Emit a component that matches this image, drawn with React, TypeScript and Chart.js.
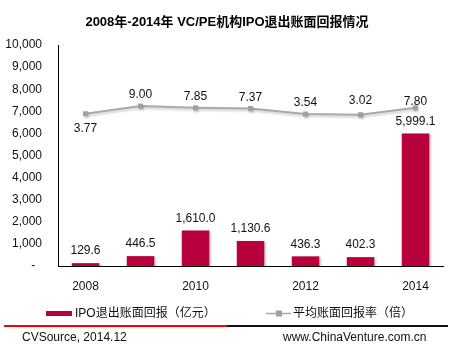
import React, { useEffect, useRef } from "react";
import { Chart, registerables } from "chart.js";

Chart.register(...registerables);

const categories = ["2008", "2009", "2010", "2011", "2012", "2013", "2014"];
const ipoReturns = [129.6, 446.5, 1610.0, 1130.6, 436.3, 402.3, 5999.1];
const avgMultiple = [3.77, 9.0, 7.85, 7.37, 3.54, 3.02, 7.8];
const yTicks = [0, 1000, 2000, 3000, 4000, 5000, 6000, 7000, 8000, 9000, 10000];

const titleText = "2008年-2014年 VC/PE机构IPO退出账面回报情况";
const barLegend = "IPO退出账面回报（亿元）";
const lineLegend = "平均账面回报率（倍）";
const sourceLeft = "CVSource, 2014.12";
const sourceRight = "www.ChinaVenture.com.cn";

const FONT = '"Liberation Sans", Arial, "Noto Sans CJK SC", sans-serif';
const BAR_COLOR = "#B8003C";
const LINE_COLOR = "#a8a8a8";
const POINT_COLOR = "#a0a0a0";
const TEXT = "#111";

const fmt1 = (v: number) =>
  v.toLocaleString("en-US", { minimumFractionDigits: 1, maximumFractionDigits: 1 });
const fmt2 = (v: number) => v.toFixed(2);

const decorPlugin = {
  id: "decor",
  beforeDatasetDraw(chart: any, args: any) {
    const ctx = chart.ctx;
    ctx.save();
    if (args.index === 0) {
      ctx.shadowColor = "rgba(0,0,0,0.22)";
      ctx.shadowOffsetX = 2;
      ctx.shadowOffsetY = 1;
      ctx.shadowBlur = 2;
    } else {
      ctx.shadowColor = "rgba(0,0,0,0.18)";
      ctx.shadowOffsetX = 1;
      ctx.shadowOffsetY = 2;
      ctx.shadowBlur = 2;
    }
  },
  afterDatasetDraw(chart: any) {
    chart.ctx.restore();
  },
  afterDraw(chart: any) {
    const ctx = chart.ctx;
    ctx.save();
    // title
    ctx.fillStyle = "#000";
    ctx.font = `bold 13px ${FONT}`;
    ctx.textAlign = "center";
    ctx.textBaseline = "middle";
    ctx.fillText(titleText, 227, 22);

    // data labels
    ctx.font = `12px ${FONT}`;
    ctx.fillStyle = TEXT;
    const barMeta = chart.getDatasetMeta(0);
    barMeta.data.forEach((el: any, i: number) => {
      ctx.fillText(fmt1(ipoReturns[i]), el.x, el.y - 12);
    });
    const lineMeta = chart.getDatasetMeta(1);
    const last = lineMeta.data.length - 1;
    lineMeta.data.forEach((el: any, i: number) => {
      let dy = -11;
      if (i === 0) dy = 15;
      else if (i === last) dy = -6;
      else if (avgMultiple[i] < 3.5) dy = -14;
      ctx.fillText(fmt2(avgMultiple[i]), el.x, el.y + dy);
    });

    // legend
    ctx.fillStyle = BAR_COLOR;
    ctx.fillRect(46, 311, 26, 5);
    ctx.fillStyle = TEXT;
    ctx.textAlign = "left";
    ctx.fillText(barLegend, 75, 314);
    ctx.strokeStyle = LINE_COLOR;
    ctx.lineWidth = 1.5;
    ctx.beginPath();
    ctx.moveTo(266, 313.5);
    ctx.lineTo(291, 313.5);
    ctx.stroke();
    ctx.fillStyle = POINT_COLOR;
    ctx.fillRect(276, 310.5, 6, 6);
    ctx.fillStyle = TEXT;
    ctx.fillText(lineLegend, 293, 314);

    // footer
    ctx.lineWidth = 2;
    ctx.strokeStyle = "#ff0000";
    ctx.beginPath();
    ctx.moveTo(4, 326);
    ctx.lineTo(227, 326);
    ctx.stroke();
    ctx.strokeStyle = "#111";
    ctx.beginPath();
    ctx.moveTo(227, 326);
    ctx.lineTo(448, 326);
    ctx.stroke();
    ctx.fillStyle = TEXT;
    ctx.font = `12px ${FONT}`;
    ctx.fillText(sourceLeft, 22, 338);
    ctx.fillText(sourceRight, 283, 338);
    ctx.restore();
  },
};

export default function App() {
  const ref = useRef<HTMLCanvasElement>(null);
  useEffect(() => {
    if (!ref.current) return;
    const chart = new Chart(ref.current, {
      type: "bar",
      data: {
        labels: categories,
        datasets: [
          {
            type: "bar",
            label: barLegend,
            data: ipoReturns,
            backgroundColor: BAR_COLOR,
            barPercentage: 0.5,
            categoryPercentage: 1,
            yAxisID: "y",
            order: 2,
          },
          {
            type: "line",
            label: lineLegend,
            data: avgMultiple,
            borderColor: LINE_COLOR,
            borderWidth: 2,
            pointStyle: "rect",
            pointRadius: 3.5,
            pointBackgroundColor: POINT_COLOR,
            pointBorderColor: POINT_COLOR,
            pointBorderWidth: 0,
            tension: 0,
            yAxisID: "y2",
            order: 1,
          } as any,
        ],
      },
      options: {
        responsive: false,
        animation: false,
        layout: { padding: { top: 45, right: 11, left: 0, bottom: 0 } },
        plugins: {
          legend: { display: false },
          title: { display: false },
          tooltip: { enabled: false },
        },
        scales: {
          x: {
            grid: { display: false, drawTicks: false },
            border: { display: true, color: "#000", width: 1 },
            ticks: {
              autoSkip: false,
              maxRotation: 0,
              padding: 13,
              color: TEXT,
              font: { family: FONT, size: 12 },
              callback: (_v: any, i: number) => (i % 2 === 0 ? categories[i] : ""),
            },
            afterFit: (s: any) => {
              s.height = 84;
            },
          },
          y: {
            min: 0,
            max: 10000,
            grid: { display: false, drawTicks: false },
            border: { display: true, color: "#000", width: 1 },
            afterBuildTicks: (s: any) => {
              s.ticks = yTicks.map((v) => ({ value: v }));
            },
            ticks: {
              padding: 16,
              color: TEXT,
              font: { family: FONT, size: 12 },
              callback: (v: any) => (Number(v) === 0 ? "-  " : Number(v).toLocaleString("en-US")),
            },
            afterFit: (s: any) => {
              s.width = 58;
            },
          },
          y2: {
            display: false,
            position: "right",
            min: -101,
            max: 51,
          },
        },
      },
      plugins: [decorPlugin],
    });
    return () => chart.destroy();
  }, []);
  return (
    <div style={{ position: "fixed", left: 0, top: 0, width: 454, height: 350, background: "#fff" }}>
      <canvas ref={ref} width={454} height={350} />
    </div>
  );
}
